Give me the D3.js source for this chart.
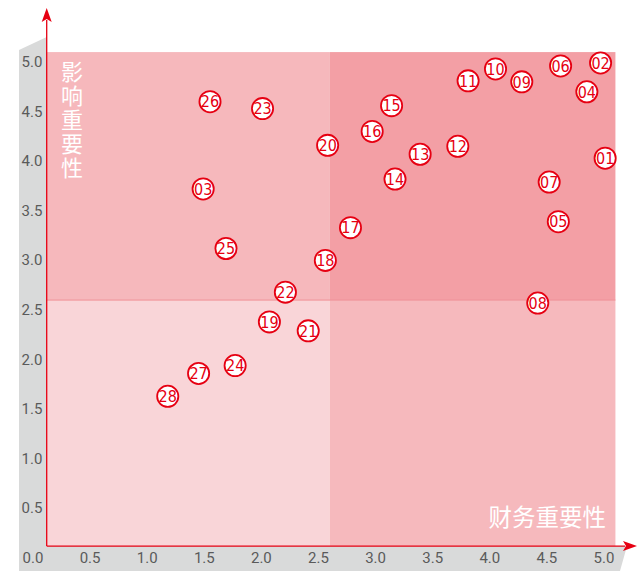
<!DOCTYPE html>
<html>
<head>
<meta charset="utf-8">
<script src="https://cdn.jsdelivr.net/npm/d3@7"></script>
<style>
  body { margin: 0; background: #fff; }
  svg { display: block; }
</style>
</head>
<body>
<div id="chart"></div>
<script>
// topic ids and their scores
const IDS = ["01","02","03","04","05","06","07","08","09","10","11","12","13","14",
  "15","16","17","18","19","20","21","22","23","24","25","26","27","28"];
const FINANCIAL = [5.01,4.97,1.49,4.85,4.60,4.62,4.52,4.42,4.28,4.05,3.81,3.72,3.39,3.17,
  3.14,2.97,2.78,2.56,2.07,2.58,2.41,2.21,2.01,1.77,1.69,1.55,1.45,1.18];
const IMPACT = [4.03,4.99,3.72,4.70,3.39,4.96,3.79,2.57,4.80,4.93,4.81,4.15,4.07,3.82,
  4.56,4.30,3.33,3.00,2.38,4.16,2.29,2.68,4.53,1.94,3.12,4.60,1.86,1.63];
const X_TICKS = [0, 0.5, 1, 1.5, 2, 2.5, 3, 3.5, 4, 4.5, 5];
const Y_TICKS = [0.5, 1, 1.5, 2, 2.5, 3, 3.5, 4, 4.5, 5]; // 0.0 is shared with x
const SPLIT = 2.6;
const LO = 0.12, HI = 5.1;

const width = 637, height = 574;
const red = "#e60012";

const x = d3.scaleLinear().domain([0, 5]).range([33, 604]);
const y = d3.scaleLinear().domain([0, 5]).range([558, 62]);

const svg = d3.select("#chart").append("svg")
  .attr("width", width).attr("height", height);

// grey bands behind the tick labels
svg.append("path")
  .attr("d", `M19,${y(5) - 12} L${x(LO)},${y(5) - 25} L${x(LO)},${y(LO)} L19,${y(LO)} Z`)
  .attr("fill", "#d9dada");
svg.append("path")
  .attr("d", `M19,${y(LO)} L627,${y(LO)} L620,571 L19,571 Z`)
  .attr("fill", "#d9dada");

// quadrants
const quads = [
  { x0: LO, x1: SPLIT, y0: LO, y1: SPLIT, fill: "#f9d5d8" },
  { x0: SPLIT, x1: HI, y0: LO, y1: SPLIT, fill: "#f6b9bd" },
  { x0: LO, x1: SPLIT, y0: SPLIT, y1: HI, fill: "#f6b8bc" },
  { x0: SPLIT, x1: HI, y0: SPLIT, y1: HI, fill: "#f39fa5" },
];
svg.append("g").selectAll("rect").data(quads).join("rect")
  .attr("x", (d) => x(d.x0))
  .attr("y", (d) => y(d.y1))
  .attr("width", (d) => x(d.x1) - x(d.x0))
  .attr("height", (d) => y(d.y0) - y(d.y1))
  .attr("fill", (d) => d.fill);

svg.append("line")
  .attr("x1", x(LO)).attr("x2", x(HI)).attr("y1", y(SPLIT)).attr("y2", y(SPLIT))
  .attr("stroke", "#ef8f97").attr("stroke-width", 1);

// tick labels
const tickFont = "Roboto, 'DejaVu Sans Condensed', sans-serif";
svg.append("g").selectAll("text").data(X_TICKS).join("text")
  .attr("x", (d) => x(d)).attr("y", 563)
  .attr("text-anchor", "middle")
  .attr("font-family", tickFont).attr("font-size", 15)
  .attr("fill", "#5a5a5a")
  .text((d) => d.toFixed(1));
svg.append("g").selectAll("text").data(Y_TICKS).join("text")
  .attr("x", 32).attr("y", (d) => y(d) + 5)
  .attr("text-anchor", "middle")
  .attr("font-family", tickFont).attr("font-size", 15)
  .attr("fill", "#5a5a5a")
  .text((d) => d.toFixed(1));

// axes with arrows
svg.append("line")
  .attr("x1", x(LO)).attr("x2", x(LO)).attr("y1", y(LO)).attr("y2", 20)
  .attr("stroke", red).attr("stroke-width", 1.3);
svg.append("path")
  .attr("d", `M${x(LO)},8 L${x(LO) - 5},22 L${x(LO)},19 L${x(LO) + 5},22 Z`)
  .attr("fill", red);
svg.append("line")
  .attr("x1", x(LO)).attr("x2", 625).attr("y1", y(LO)).attr("y2", y(LO))
  .attr("stroke", red).attr("stroke-width", 1.3);
svg.append("path")
  .attr("d", `M637,${y(LO)} L623,${y(LO) - 5} L626,${y(LO)} L623,${y(LO) + 5} Z`)
  .attr("fill", red);

// axis titles
const cjk = "'Noto Sans CJK SC', sans-serif";
svg.append("text")
  .attr("x", 72).attr("y", 61)
  .style("writing-mode", "vertical-rl")
  .attr("letter-spacing", 2)
  .attr("font-family", cjk).attr("font-size", 22)
  .attr("fill", "#fff")
  .text("影响重要性");
svg.append("text")
  .attr("x", 606).attr("y", 526)
  .attr("text-anchor", "end")
  .attr("font-family", cjk).attr("font-size", 23.5)
  .attr("fill", "#fff")
  .text("财务重要性");

// points
const data = IDS.map((id, i) => ({ id, fx: FINANCIAL[i], im: IMPACT[i] }));
const pt = svg.append("g").selectAll("g").data(data).join("g")
  .attr("transform", (d) => `translate(${x(d.fx)},${y(d.im)})`);
pt.append("circle")
  .attr("r", 10.6)
  .attr("fill", "#fff")
  .attr("stroke", red)
  .attr("stroke-width", 1.8);
pt.append("text")
  .attr("text-anchor", "middle")
  .attr("dy", "0.36em")
  .attr("font-family", "'DejaVu Sans Condensed', 'Liberation Sans Narrow', sans-serif")
  .attr("font-size", 16)
  .attr("fill", red)
  .text((d) => d.id);
</script>
</body>
</html>
